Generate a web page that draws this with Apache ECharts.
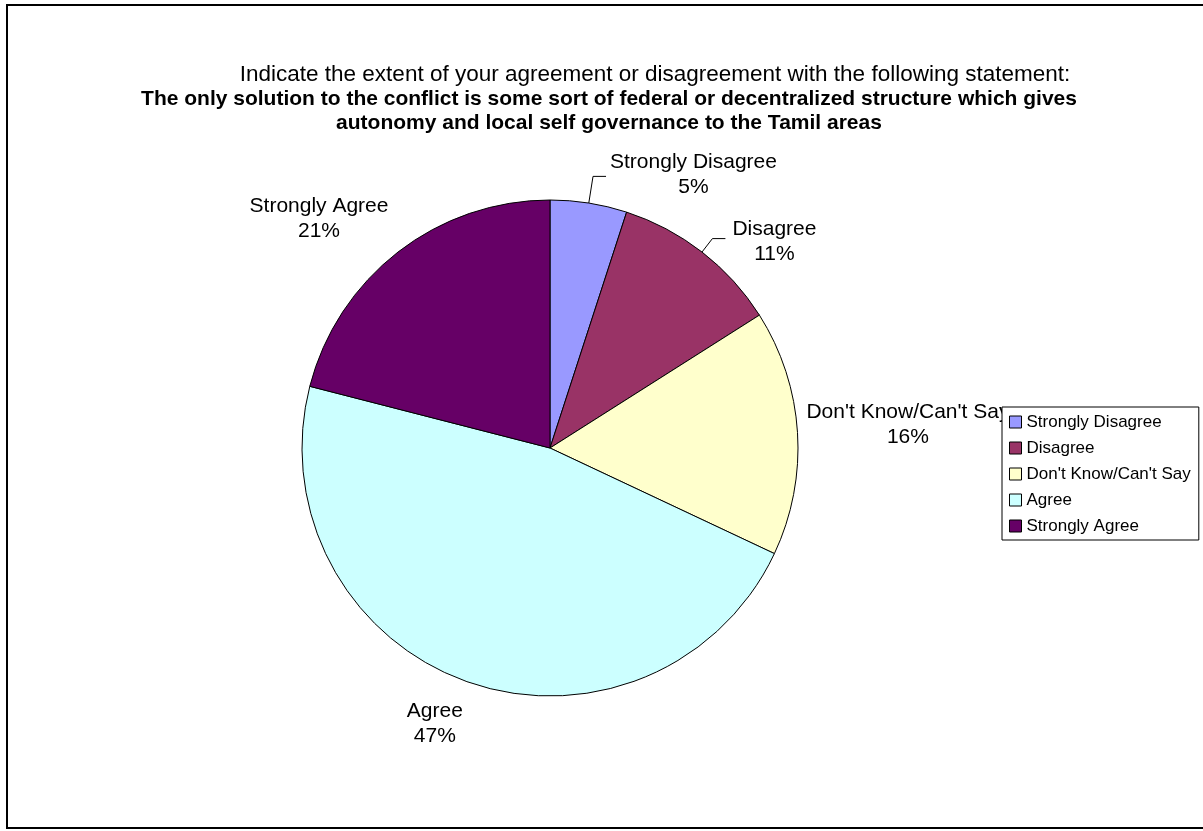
<!DOCTYPE html>
<html>
<head>
<meta charset="utf-8">
<script src="https://cdn.jsdelivr.net/npm/echarts@6/dist/echarts.min.js"></script>
<style>
  html, body { margin: 0; padding: 0; background: #ffffff; }
  #chart { width: 1203px; height: 831px; }
</style>
</head>
<body>
<div id="chart"></div>
<script>
// Survey responses (percent of respondents)
const categories = ['Strongly Disagree', 'Disagree', "Don't Know/Can't Say", 'Agree', 'Strongly Agree'];
const shares = [5, 11, 16, 47, 21];

const titleLine1 = 'Indicate the extent of your agreement or disagreement with the following statement:';
const titleLine2 = 'The only solution to the conflict is some sort of federal or decentralized structure which gives';
const titleLine3 = 'autonomy and local self governance to the Tamil areas';

// Styling
const sliceColors = ['#9999FF', '#993366', '#FFFFCC', '#CCFFFF', '#660066'];
const FONT = '"Liberation Sans", Arial, Helvetica, sans-serif';
// leader lines: only the two narrow top slices have visible guides
const guideStyle = [
  { show: true, length: 27, length2: 13 },
  { show: true, length: 17, length2: 13 },
  { show: false, length: 27, length2: 13 },
  { show: false, length: 27, length2: 13 },
  { show: false, length: 27, length2: 13 }
];
// fine offsets applied to each label block after the pie places it
const labelShift = [[-1, -2], [2, 3], [-36, -6], [24, 17], [25, -12]];

const chart = echarts.init(document.getElementById('chart'), null, { renderer: 'canvas' });

const pieData = categories.map((name, i) => ({
  name: name,
  value: shares[i],
  itemStyle: { color: sliceColors[i] },
  labelLine: guideStyle[i]
}));

chart.setOption({
  backgroundColor: '#ffffff',
  animation: false,
  textStyle: { fontFamily: FONT },
  title: [
    {
      text: titleLine1,
      left: 650,
      top: 58,
      textAlign: 'center',
      textStyle: { fontFamily: FONT, fontSize: 22.5, fontWeight: 'normal', color: '#000', lineHeight: 24 }
    },
    {
      text: titleLine2 + '\n' + titleLine3,
      left: 604,
      top: 82,
      textAlign: 'center',
      textStyle: { fontFamily: FONT, fontSize: 21, fontWeight: 'bold', color: '#000', lineHeight: 24 }
    }
  ],
  legend: {
    orient: 'vertical',
    left: 1002,
    top: 407,
    padding: [6, 8, 5, 7],
    backgroundColor: '#ffffff',
    borderColor: '#000000',
    borderWidth: 1,
    borderRadius: 0,
    itemWidth: 12,
    itemHeight: 12,
    itemGap: 8,
    icon: 'rect',
    itemStyle: { borderColor: '#000000', borderWidth: 1 },
    textStyle: { fontFamily: FONT, fontSize: 17, color: '#000', lineHeight: 18 },
    data: categories
  },
  graphic: [
    {
      type: 'rect',
      shape: { x: 7, y: 5, width: 1230, height: 823 },
      style: { fill: 'none', stroke: '#000', lineWidth: 2 },
      silent: true,
      z: 100
    }
  ],
  series: [
    {
      type: 'pie',
      center: [550, 448],
      radius: 248,
      startAngle: 90,
      clockwise: true,
      avoidLabelOverlap: false,
      itemStyle: { borderColor: '#000000', borderWidth: 1 },
      emphasis: { disabled: true },
      label: {
        show: true,
        position: 'outside',
        fontFamily: FONT,
        fontSize: 21,
        lineHeight: 25,
        color: '#000000',
        formatter: p => p.name + '\n' + p.value + '%'
      },
      labelLine: { lineStyle: { color: '#000000', width: 1 }, smooth: false },
      labelLayout: function (params) {
        const r = params.labelRect;
        const s = labelShift[params.dataIndex];
        return {
          x: r.x + r.width / 2 + s[0],
          y: r.y + r.height / 2 + s[1],
          align: 'center',
          verticalAlign: 'middle',
          labelLinePoints: params.labelLinePoints
        };
      },
      data: pieData
    }
  ]
});
</script>
</body>
</html>
